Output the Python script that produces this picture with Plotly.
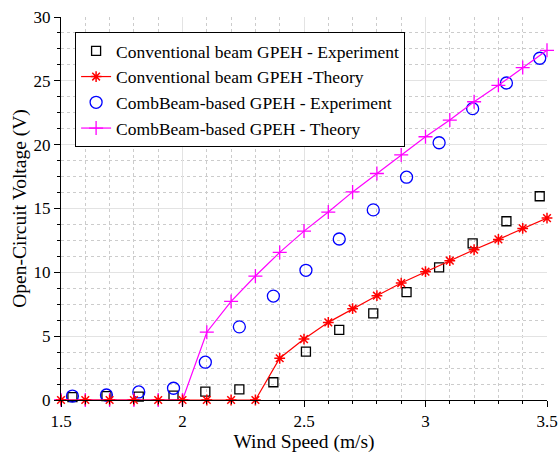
import plotly.graph_objects as go

# Wind speed grid used by the analytical models (m/s)
theory_speed = [1.5, 1.6, 1.7, 1.8, 1.9, 2.0, 2.1, 2.2, 2.3, 2.4, 2.5,
                2.6, 2.7, 2.8, 2.9, 3.0, 3.1, 3.2, 3.3, 3.4, 3.5]
conv_theory = [0, 0, 0, 0, 0, 0, 0, 0, 0, 3.27, 4.77,
               6.08, 7.15, 8.17, 9.16, 10.05, 10.91, 11.77, 12.58, 13.44, 14.25]
comb_theory = [0, 0, 0, 0, 0, 0, 5.31, 7.72, 9.71, 11.56, 13.23,
               14.72, 16.30, 17.74, 19.20, 20.62, 21.93, 23.36, 24.65, 26.04, 27.39]

# Measured wind speeds in the wind tunnel (m/s)
exp_speed = [1.547, 1.687, 1.82, 1.963, 2.094, 2.234, 2.374, 2.508,
             2.645, 2.785, 2.922, 3.056, 3.194, 3.333, 3.47]
conv_exp = [0.23, 0.30, 0.26, 0.34, 0.65, 0.84, 1.39, 3.79,
            5.49, 6.78, 8.45, 10.39, 12.27, 14.00, 15.96]
comb_exp = [0.31, 0.39, 0.63, 0.92, 2.96, 5.73, 8.14, 10.16,
            12.61, 14.89, 17.45, 20.15, 22.82, 24.83, 26.77]

FONT = "Times New Roman, Liberation Serif, serif"

fig = go.Figure()

fig.add_trace(go.Scatter(
    x=exp_speed, y=conv_exp, mode="markers",
    name="Conventional beam GPEH - Experiment", legendrank=1,
    marker=dict(symbol="square-open", size=9, color="black", line=dict(width=1.3)),
    cliponaxis=False))
fig.add_trace(go.Scatter(
    x=exp_speed, y=comb_exp, mode="markers",
    name="CombBeam-based GPEH - Experiment", legendrank=3,
    marker=dict(symbol="circle-open", size=12, color="blue", line=dict(width=1.3)),
    cliponaxis=False))
fig.add_trace(go.Scatter(
    x=theory_speed, y=comb_theory, mode="lines+markers",
    name="CombBeam-based GPEH - Theory", legendrank=4,
    line=dict(color="#ff00ff", width=1.2),
    marker=dict(symbol="cross-thin", size=10, color="#ff00ff",
                line=dict(width=1.3, color="#ff00ff")),
    cliponaxis=False))
fig.add_trace(go.Scatter(
    x=theory_speed, y=conv_theory, mode="lines+markers",
    name="Conventional beam GPEH -Theory", legendrank=2,
    line=dict(color="red", width=1.2),
    marker=dict(symbol="asterisk", size=9, color="red",
                line=dict(width=1.5, color="red")),
    cliponaxis=False))

axis_common = dict(
    showline=True, linecolor="black", linewidth=1,
    ticks="outside", ticklen=6, tickcolor="black",
    showgrid=True, gridcolor="#e3e3e3", gridwidth=1,
    zeroline=False, mirror=False, automargin=False,
    tickfont=dict(family=FONT, size=17, color="black"),
)

fig.update_xaxes(
    range=[1.5, 3.5], dtick=0.5, tick0=1.5,
    title=dict(text="Wind Speed (m/s)", font=dict(family=FONT, size=19.5, color="black"),
               standoff=4),
    minor=dict(dtick=0.1, ticks="outside", ticklen=3, tickcolor="black",
               showgrid=True, gridcolor="#cccccc", griddash="dot", gridwidth=1),
    **axis_common)
fig.update_yaxes(
    range=[0, 30], dtick=5, tick0=0,
    title=dict(text="Open-Circuit Voltage (V)", font=dict(family=FONT, size=19.5, color="black"),
               standoff=1),
    minor=dict(dtick=1.25, ticks="outside", ticklen=3, tickcolor="black",
               showgrid=True, gridcolor="#cccccc", griddash="dot", gridwidth=1),
    **axis_common)

fig.update_layout(
    width=559, height=453,
    margin=dict(l=61, r=12, t=17, b=53),
    paper_bgcolor="white", plot_bgcolor="white",
    showlegend=True,
    legend=dict(x=0.029, y=0.961, xanchor="left", yanchor="top",
                bgcolor="white", bordercolor="black", borderwidth=1,
                font=dict(family=FONT, size=17.5, color="black"),
                tracegroupgap=0, itemwidth=30),
)

fig.write_html("out.html")
